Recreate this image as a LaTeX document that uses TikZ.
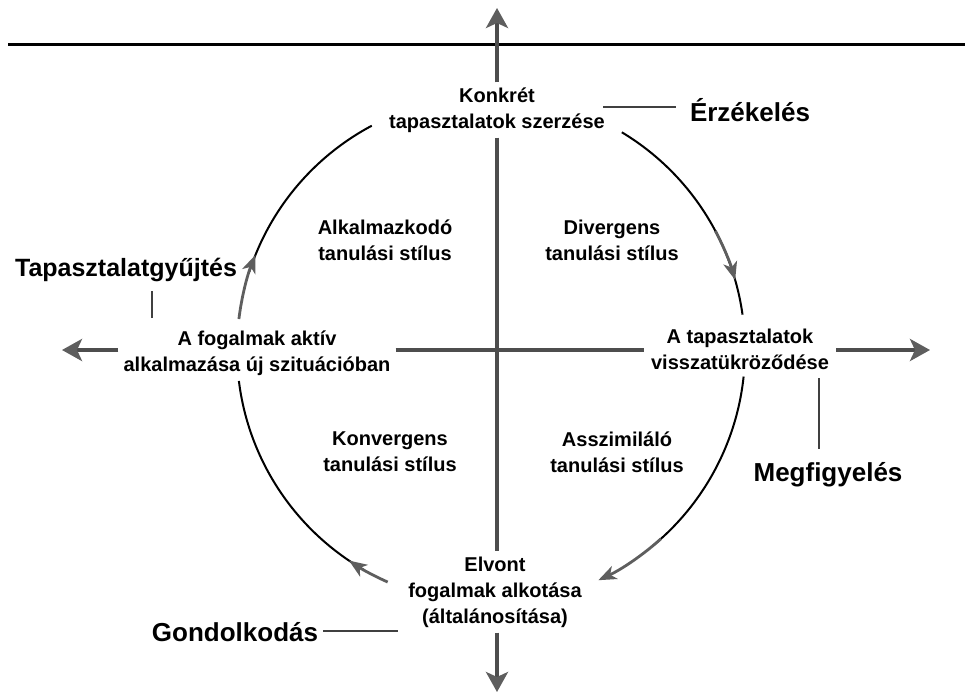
\documentclass[tikz,border=0pt]{standalone}
\usepackage{fontspec}
\setmainfont{Liberation Sans}
\usetikzlibrary{arrows.meta}
\definecolor{axisgray}{HTML}{4D4D4D}
\definecolor{tipgray}{HTML}{5E5E5E}
\begin{document}
\begin{tikzpicture}[x=1pt,y=1pt,
  lbl/.style={font=\bfseries\fontsize{20}{26}\selectfont, align=center, inner sep=5pt},
  big/.style={font=\bfseries\fontsize{26}{30}\selectfont, inner sep=2pt},
  axis/.style={draw=axisgray, line width=4.5pt},
  axarrow/.style={axis, -{Stealth[length=20pt,width=22pt,inset=5pt,color=tipgray]}},
  cyc/.style={draw=black, line width=2pt},
  cycarrow/.style={draw=tipgray, line width=2.8pt, -{Stealth[length=18pt,width=14pt,inset=5pt,color=tipgray]}},
  tickline/.style={draw=black!75, line width=1.3pt}]
\useasboundingbox (0,0) rectangle (965,-693);
\fill[white] (0,0) rectangle (965,-693);

% top rule
\coordinate (ruleL) at (8,-45);
\coordinate (ruleR) at (965,-45);
\draw[black, line width=3pt] (ruleL) -- (ruleR);

% main nodes
\node[lbl] (konk) at (497,-110) {Konkrét\\tapasztalatok szerzése};
\node[lbl] (elv) at (495,-592) {Elvont\\fogalmak alkotása\\(általánosítása)};
\node[lbl] (fog) at (257,-353) {A fogalmak aktív\\alkalmazása új szituációban};
\node[lbl, inner sep=7pt] (tap) at (740,-349) {A tapasztalatok\\visszatükröződése};

% style labels
\node[lbl] (alk) at (385,-240) {Alkalmazkodó\\tanulási stílus};
\node[lbl] (div) at (612,-240) {Divergens\\tanulási stílus};
\node[lbl] (kon) at (390,-452) {Konvergens\\tanulási stílus};
\node[lbl] (asz) at (617,-452) {Asszimiláló\\tanulási stílus};

% big labels
\node[big] (erz) at (750,-110) {Érzékelés};
\node[big] (meg) at (828,-475) {Megfigyelés};
\node[big] (gon) at (235,-632) {Gondolkodás};
\node[big, font=\bfseries\fontsize{25}{30}\selectfont] (tgy) at (126,-270) {Tapasztalatgyűjtés};

% axes
\coordinate (topT) at (497,-8);
\coordinate (botT) at (497,-692);
\coordinate (leftT) at (62,-350);
\coordinate (rightT) at (930,-350);
\draw[axarrow] (konk.north) -- (topT);
\draw[axis] (konk.south) -- (konk.south |- elv.north);
\draw[axarrow] (elv.south -| konk.south) -- (botT);
\draw[axarrow] (fog.west |- leftT) -- (leftT);
\draw[axis] (fog.east |- leftT) -- (tap.west |- leftT);
\draw[axarrow] (tap.east |- rightT) -- (rightT);

% label ticks
\coordinate (erzL) at (603,-107);
\draw[tickline, shorten >=12pt] (erzL) -- (erzL -| erz.west);
\coordinate (megT) at (819,-378);
\draw[tickline, shorten >=12pt] (megT) -- (megT |- meg.north);
\coordinate (gonR) at (398,-631);
\draw[tickline, shorten <=3pt] (gon.east |- gonR) -- (gonR);
\coordinate (tgyB) at (152,-318);
\draw[tickline, shorten >=7pt] (tgyB) -- (tgyB |- tgy.south);

% cycle arcs
\coordinate (C) at (491,-350);
\draw[cyc] ([shift={(59:254)}]C) arc[start angle=59,end angle=8,radius=254];
\draw[cycarrow] ([shift={(28:254)}]C) arc[start angle=28,end angle=16,radius=254];
\draw[cyc] ([shift={(-6:254)}]C) arc[start angle=-6,end angle=-50,radius=254];
\draw[cycarrow] ([shift={(-48:254)}]C) arc[start angle=-48,end angle=-65,radius=254];
\draw[cyc] ([shift={(240:254)}]C) arc[start angle=240,end angle=187,radius=254];
\draw[cycarrow] ([shift={(246:254)}]C) arc[start angle=246,end angle=236,radius=254];
\draw[cyc] ([shift={(162:254)}]C) arc[start angle=162,end angle=118,radius=254];
\draw[cycarrow] ([shift={(173:254)}]C) arc[start angle=173,end angle=158,radius=254];
\end{tikzpicture}
\end{document}
